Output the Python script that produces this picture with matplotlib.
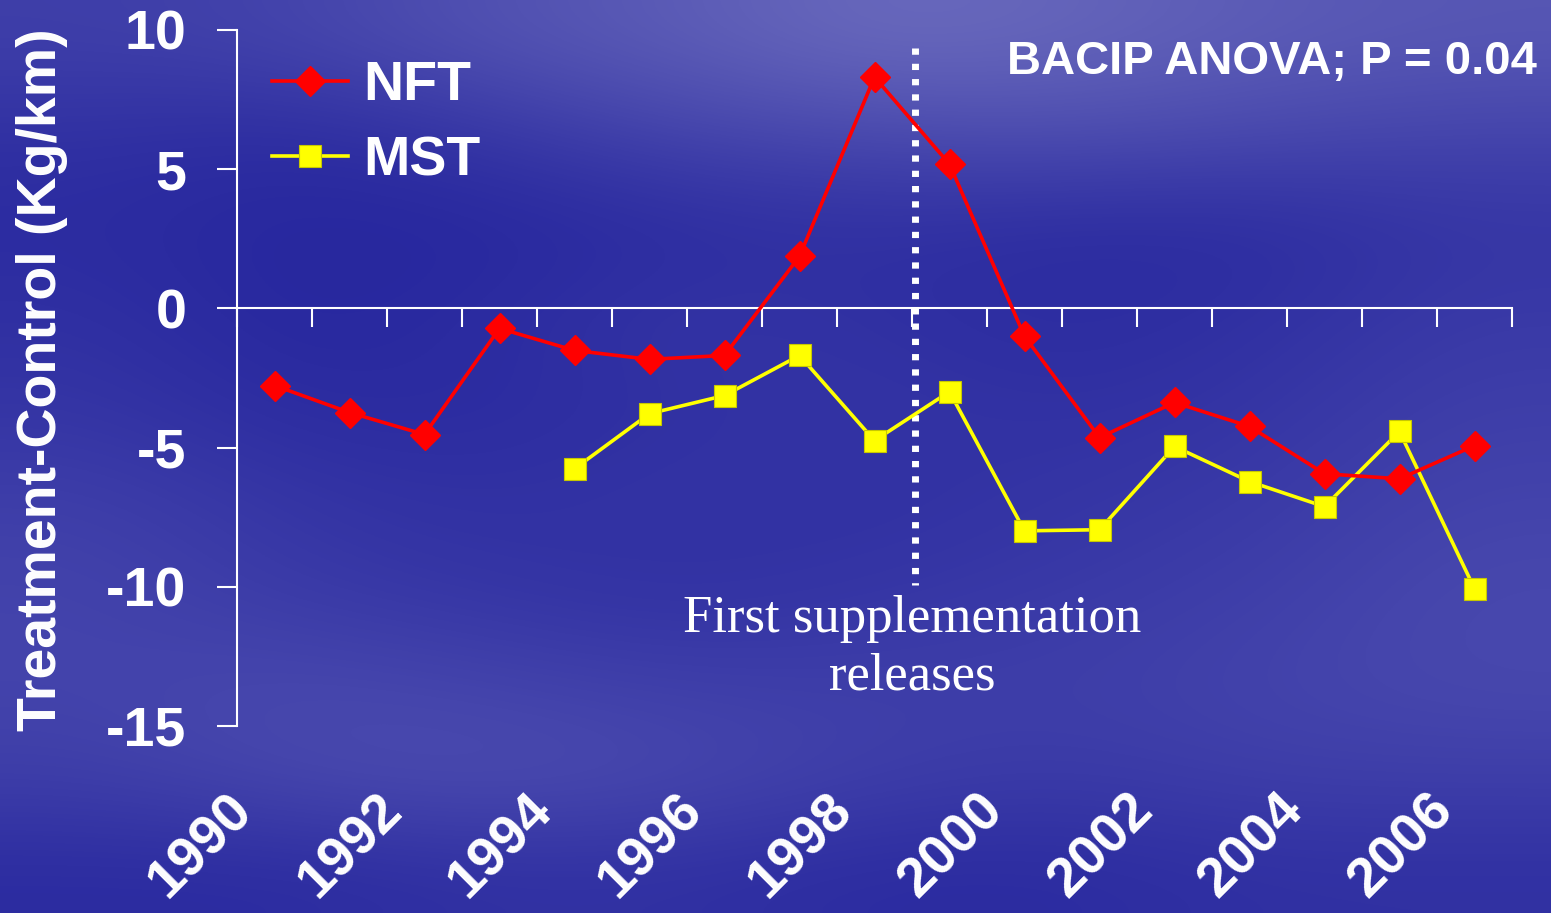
import numpy as np
import matplotlib
matplotlib.use("Agg")
import matplotlib.pyplot as plt
from matplotlib.colors import LinearSegmentedColormap
from matplotlib.transforms import ScaledTranslation

plt.rcParams['font.family'] = ['Liberation Sans', 'DejaVu Sans']
plt.rcParams['axes.unicode_minus'] = False

years = list(range(1990, 2007))
nft = [-2.77, -3.74, -4.53, -0.72, -1.51, -1.83, -1.69, 1.87, 8.31, 5.18,
       -1.0, -4.64, -3.38, -4.24, -5.94, -6.12, -4.93]
mst_years = list(range(1994, 2007))
mst = [-5.76, -3.78, -3.13, -1.69, -4.75, -2.99, -7.99, -7.95, -4.96, -6.22,
       -7.12, -4.42, -10.07]
year_labels = [str(y) for y in years if y % 2 == 0]

# background texture (hand picked brightness grid)
bg = np.array([
    [0.30, 0.35, 0.50, 0.60, 0.75, 0.70, 0.60, 0.55],
    [0.15, 0.10, 0.20, 0.35, 0.40, 0.45, 0.40, 0.35],
    [0.10, 0.05, 0.05, 0.10, 0.15, 0.10, 0.10, 0.20],
    [0.15, 0.05, 0.10, 0.20, 0.15, 0.10, 0.15, 0.25],
    [0.20, 0.10, 0.10, 0.15, 0.20, 0.15, 0.20, 0.30],
    [0.30, 0.20, 0.15, 0.20, 0.15, 0.20, 0.25, 0.35],
    [0.35, 0.25, 0.20, 0.15, 0.20, 0.25, 0.30, 0.40],
    [0.35, 0.40, 0.35, 0.30, 0.30, 0.30, 0.35, 0.40],
    [0.30, 0.40, 0.45, 0.40, 0.30, 0.25, 0.30, 0.30],
    [0.10, 0.10, 0.15, 0.15, 0.10, 0.10, 0.15, 0.15],
])
cmap = LinearSegmentedColormap.from_list('bg', ['#22229c', '#8282c8'])

fig = plt.figure(figsize=(15.51, 9.13), dpi=100)
bax = fig.add_axes([0, 0, 1, 1])
bax.imshow(bg, cmap=cmap, vmin=0, vmax=1, aspect='auto', interpolation='bicubic')
bax.set_axis_off()

W, H = 1551, 913
ax = fig.add_axes([237 / W, 1 - 726 / H, (1512 - 237) / W, (726 - 30) / H])
ax.patch.set_alpha(0)
x = np.arange(len(years))
xm = np.array([years.index(y) for y in mst_years])

ax.plot(x, nft, color='#ff0000', lw=2.6, marker='D', ms=15, mec='#ff0000', label='NFT', zorder=4)
ax.plot(xm, mst, color='#ffff00', lw=2.6, marker='s', ms=16, mec='#c8c800', mew=0.8, label='MST', zorder=3)

# first supplementation release
ax.plot([8.54, 8.54], [9.35, -9.95], color='white', lw=5, ls=(0, (0.9, 1.3)), zorder=2)
ax.text(8.5, -12.2, 'First supplementation\nreleases', color='white', fontsize=38,
        family=['Liberation Serif'], ha='center', va='center', linespacing=1.25)

ax.set_xlim(-0.5, 16.5)
ax.set_ylim(-15, 10)
ax.set_yticks([10, 5, 0, -5, -10, -15])
for s in ['top', 'right']:
    ax.spines[s].set_visible(False)
ax.spines['left'].set_color('white')
ax.spines['left'].set_linewidth(1.5)
ax.spines['bottom'].set_position(('data', 0))
ax.spines['bottom'].set_color('white')
ax.spines['bottom'].set_linewidth(1.5)
ax.set_xticks(np.arange(-0.5, 17, 1))
ax.set_xticklabels([])
ax.tick_params(axis='x', direction='out', length=13.5, width=1.5, color='white')
ax.tick_params(axis='y', direction='out', length=14.4, width=1.5, color='white',
               labelcolor='white', labelsize=40, pad=22)
for t in ax.get_yticklabels():
    t.set_fontweight('bold')

sec = ax.secondary_xaxis(0.0)
sec.set_xticks([years.index(int(l)) for l in year_labels], year_labels)
sec.spines['bottom'].set_visible(False)
sec.tick_params(length=0, pad=42, labelcolor='white', labelsize=40)
off = ScaledTranslation(-0.48, 0, fig.dpi_scale_trans)
for t in sec.get_xticklabels():
    t.set_fontweight('bold')
    t.set_rotation(45)
    t.set_ha('right')
    t.set_va('top')
    t.set_rotation_mode('anchor')
    t.set_transform(t.get_transform() + off)

fig.text(42 / W, 1 - 380 / H, 'Treatment-Control (Kg/km)', rotation=90, color='white',
         fontsize=40, fontweight='bold', ha='center', va='center')
fig.text(1537 / W, 1 - 62 / H, 'BACIP ANOVA; P = 0.04', color='white', fontsize=34,
         fontweight='bold', ha='right', va='center')

leg = ax.legend(loc='upper left', bbox_to_anchor=(272 / W, 1 - 60 / H),
                bbox_transform=fig.transFigure, frameon=False, borderpad=0,
                borderaxespad=0, handlelength=1.37, handletextpad=0.27,
                labelspacing=0.42, prop={'size': 40, 'weight': 'bold'})
for t in leg.get_texts():
    t.set_color('white')

fig.savefig('out.png', dpi=100)
